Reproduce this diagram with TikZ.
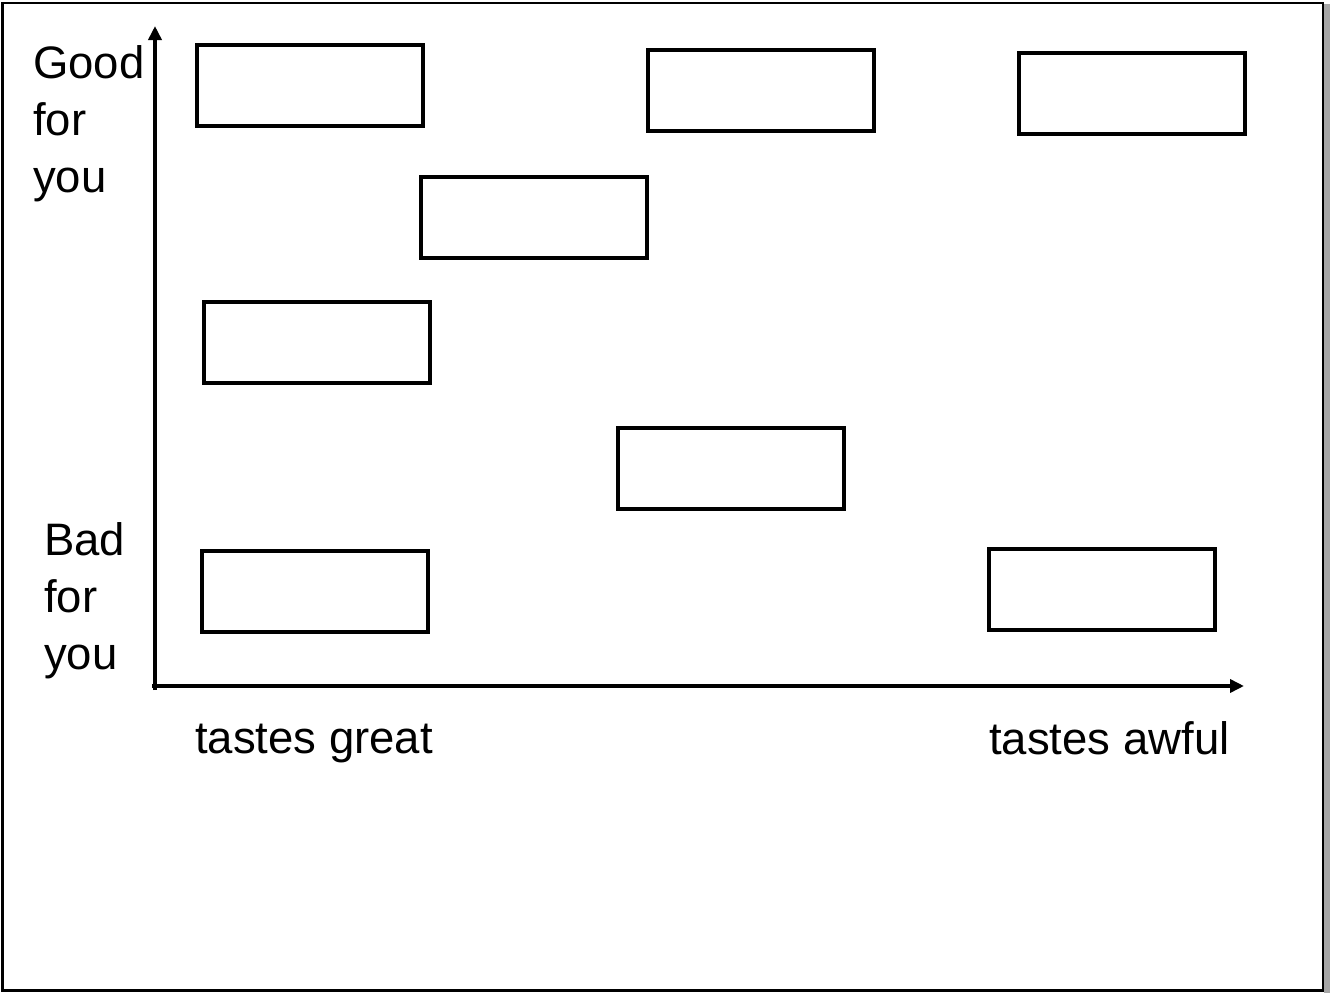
\documentclass[tikz,border=0pt]{standalone}
\usepackage{fontspec}
\setmainfont{Liberation Sans}
\usetikzlibrary{arrows.meta}
\begin{document}
\begin{tikzpicture}[x=1pt,y=-1pt,
  cell/.style={draw=black,line width=4pt,minimum width=226pt,minimum height=81pt,inner sep=0pt,outer sep=0pt,anchor=north west},
  axis/.style={line width=4pt,-{Triangle[length=14pt,width=13pt]}},
  lbl/.style={anchor=base west,inner sep=0pt,font=\fontsize{45.5pt}{57pt}\selectfont,align=left}]
\useasboundingbox (0,0) rectangle (1334,993);
% frame with shadow
\fill[gray!70] (1324,4) rectangle (1330,993);
\draw[line width=2.5pt] (2.5,3) rectangle (1323,990.5);
% axes
\coordinate (o) at (155,690);
\coordinate (ytop) at (155,26);
\coordinate (xs) at (152,686);
\coordinate (xend) at (1244,686);
\draw[axis] (o) -- (ytop);
\draw[axis] (xs) -- (xend);
% boxes
\node[cell] (b1) at (197,45) {};
\node[cell] (b2) at (648,50) {};
\node[cell] (b3) at (1019,53) {};
\node[cell] (b4) at (421,177) {};
\node[cell] (b5) at (204,302) {};
\node[cell] (b6) at (618,428) {};
\node[cell] (b7) at (202,551) {};
\node[cell] (b8) at (989,549) {};
% labels (anchored at the baseline of the last line)
\node[lbl] (good) at (33,192) {Good\\for\\you};
\node[lbl] (bad) at (44,669) {Bad\\for\\you};
\node[lbl] (tg) at (195,753) {tastes great};
\node[lbl] (ta) at (989,754) {tastes awful};
\end{tikzpicture}
\end{document}
